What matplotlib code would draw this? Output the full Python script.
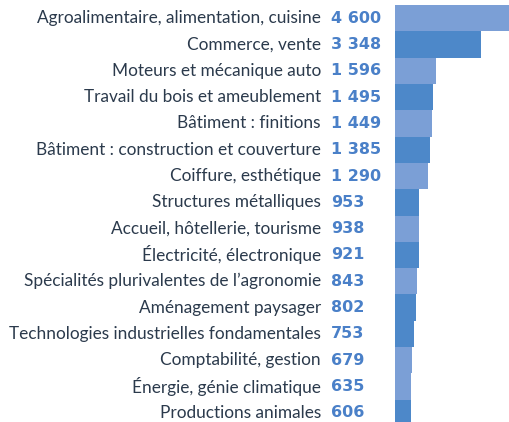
import matplotlib
matplotlib.use("Agg")
import matplotlib.pyplot as plt
import matplotlib.transforms as mtransforms

categories = [
    "Agroalimentaire, alimentation, cuisine",
    "Commerce, vente",
    "Moteurs et mécanique auto",
    "Travail du bois et ameublement",
    "Bâtiment : finitions",
    "Bâtiment : construction et couverture",
    "Coiffure, esthétique",
    "Structures métalliques",
    "Accueil, hôtellerie, tourisme",
    "Électricité, électronique",
    "Spécialités plurivalentes de l’agronomie",
    "Aménagement paysager",
    "Technologies industrielles fondamentales",
    "Comptabilité, gestion",
    "Énergie, génie climatique",
    "Productions animales",
]
values = [4600, 3348, 1596, 1495, 1449, 1385, 1290, 953, 938, 921, 843, 802, 753, 679, 635, 606]
shade = ["L", "D", "L", "D", "L", "D", "L", "D", "L", "D", "L", "D", "D", "L", "L", "D"]

LIGHT = "#7b9fd6"
DARK = "#4d88c9"
colors = [LIGHT if s == "L" else DARK for s in shade]

plt.rcParams['font.family'] = ['Lato', 'DejaVu Sans']

W, H = 510, 422
fig = plt.figure(figsize=(W / 100, H / 100), dpi=100)
ax = fig.add_axes([395 / W, (422 - 426) / H, 1 - 395 / W, 421 / H])

n = len(values)
ypos = list(range(n))
ax.barh(ypos, values, height=1.0, color=colors, edgecolor="none")
ax.set_xlim(0, 4490)
ax.set_ylim(n - 0.5, -0.5)
ax.axis("off")

trans = mtransforms.blended_transform_factory(fig.transFigure, ax.transData)
for i, (c, v) in enumerate(zip(categories, values)):
    ax.text(321 / W, i, c, transform=trans, ha="right", va="center",
            fontsize=12.4, color="#2b3a4c", clip_on=False)
    s = f"{v:,}".replace(",", " ")
    ax.text(331 / W, i, s, transform=trans, ha="left", va="center",
            fontsize=11.5, fontweight="bold", color="#4a80c8", clip_on=False,
            family=['DejaVu Sans'])

fig.savefig("out.png", dpi=100)
